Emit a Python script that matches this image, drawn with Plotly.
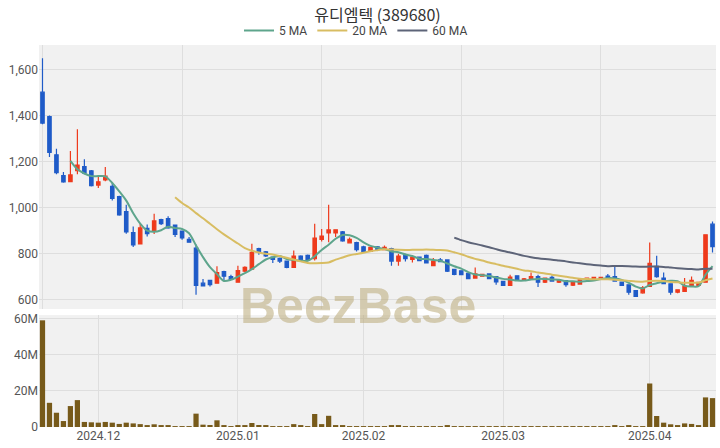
import pandas as pd
import plotly.graph_objects as go

# ---- data ----
holidays = ["2024-12-25", "2024-12-31", "2025-01-01", "2025-01-27",
            "2025-01-28", "2025-01-29", "2025-01-30"]
dates = [d.strftime("%Y-%m-%d") for d in pd.bdate_range("2024-11-20", "2025-04-14")
         if d.strftime("%Y-%m-%d") not in holidays]

opens = [1501, 1395, 1229, 1139, 1113, 1160, 1178, 1160, 1098, 1120,
         1092, 1048, 983, 892, 842, 910, 898, 948, 952, 924,
         898, 862, 824, 672, 684, 672, 722, 700, 676, 724,
         733, 822, 808, 785, 780, 768, 740, 790, 793, 778,
         862, 890, 890, 895, 847, 848, 830, 810, 830, 818,
         822, 768, 793, 775, 785, 793, 748, 773, 773, 732,
         726, 715, 694, 702, 712, 700, 680, 662, 704, 685,
         688, 700, 676, 697, 676, 683, 663, 668, 688, 685,
         690, 703, 700, 677, 665, 640, 630, 658, 745, 694,
         669, 633, 636, 661, 662, 676, 928]
highs = [1648, 1400, 1256, 1155, 1246, 1340, 1210, 1163, 1135, 1176,
         1109, 1052, 1012, 918, 930, 927, 973, 952, 962, 927,
         900, 872, 840, 690, 686, 745, 726, 708, 748, 745,
         843, 826, 812, 788, 783, 770, 814, 793, 796, 930,
         907, 1012, 906, 898, 870, 852, 834, 830, 833, 836,
         826, 800, 800, 787, 787, 796, 781, 781, 776, 735,
         728, 717, 740, 713, 714, 703, 682, 708, 706, 694,
         718, 708, 696, 705, 687, 686, 679, 689, 696, 699,
         699, 712, 745, 679, 667, 642, 660, 849, 791, 718,
         671, 645, 694, 701, 677, 884, 940]
lows = [1362, 1220, 1145, 1108, 1112, 1145, 1145, 1092, 1085, 1115,
        1031, 965, 886, 829, 840, 875, 885, 925, 908, 872,
        860, 849, 622, 657, 657, 670, 684, 686, 674, 720,
        730, 795, 786, 760, 760, 737, 738, 772, 770, 770,
        853, 850, 872, 852, 845, 810, 806, 808, 816, 816,
        748, 748, 766, 762, 768, 757, 746, 763, 720, 706,
        707, 690, 692, 700, 690, 665, 660, 660, 686, 683,
        686, 655, 673, 678, 673, 656, 660, 666, 684, 682,
        688, 693, 679, 660, 622, 613, 626, 656, 696, 668,
        622, 628, 634, 659, 660, 674, 805]
closes = [1367, 1240, 1152, 1112, 1142, 1185, 1150, 1095, 1112, 1137,
          1040, 968, 895, 838, 912, 887, 942, 930, 912, 884,
          869, 850, 662, 660, 666, 718, 702, 688, 727, 741,
          806, 810, 790, 775, 768, 740, 790, 775, 772, 868,
          876, 903, 904, 855, 862, 818, 808, 827, 818, 828,
          768, 790, 778, 785, 770, 760, 768, 765, 724, 710,
          709, 692, 712, 710, 692, 677, 662, 698, 688, 691,
          700, 676, 694, 681, 684, 666, 676, 686, 694, 697,
          697, 695, 681, 662, 633, 615, 653, 758, 700, 670,
          633, 643, 658, 684, 675, 882, 830]
volumes_m = [59.1, 13.4, 7.9, 3.3, 11.6, 14.9, 2.8, 2.6, 2.4, 2.8,
             2.4, 1.7, 2.4, 2.0, 1.6, 0.8, 1.5, 0.8, 0.7, 0.5,
             0.4, 0.3, 7.4, 1.3, 1.1, 3.7, 0.8, 0.3, 0.7, 0.6,
             2.2, 1.1, 0.6, 0.3, 0.3, 0.4, 1.6, 0.6, 0.5, 7.2,
             1.6, 6.2, 0.8, 0.6, 0.5, 0.3, 0.3, 0.4, 0.3, 0.3,
             0.8, 0.6, 0.4, 0.3, 0.3, 0.4, 0.3, 0.2, 0.7, 0.4,
             0.3, 0.4, 0.5, 0.3, 0.3, 0.4, 0.3, 0.4, 0.3, 0.2,
             0.3, 0.4, 0.2, 0.3, 0.2, 0.3, 0.2, 0.2, 0.3, 0.2,
             0.2, 0.3, 0.9, 0.3, 0.6, 0.3, 0.4, 24.1, 6.1, 2.4,
             1.5, 1.0, 2.0, 1.7, 0.6, 16.4, 16.0]
volumes = [v * 1e6 for v in volumes_m]

price_ticks = [600, 800, 1000, 1200, 1400, 1600]
vol_tickvals = [0, 20e6, 40e6, 60e6]
vol_ticktext = ["0", "20M", "40M", "60M"]
month_labels = ["2024.12", "2025.01", "2025.02", "2025.03", "2025.04"]

title_text = "유디엠텍 (389680)"
ma_windows = [5, 20, 60]
ma_names = ["5 MA", "20 MA", "60 MA"]
ma_colors = ["#5ea58c", "#d8bd62", "#5d6478"]

# ---- derived ----
close_s = pd.Series(closes)
month_tick_dates = []
seen = set()
for d in dates:
    ym = d[:7]
    if ym not in seen:
        seen.add(ym)
        month_tick_dates.append(d)
month_tick_dates = month_tick_dates[1:]
grid_dates = dates[::20]

UP = "#ee3a1c"
DOWN = "#1f5bc8"
FONT = "Roboto, 'Noto Sans CJK KR', sans-serif"

fig = go.Figure()
fig.add_trace(go.Candlestick(
    x=dates, open=opens, high=highs, low=lows, close=closes,
    increasing=dict(line=dict(color=UP, width=1.2), fillcolor=UP),
    decreasing=dict(line=dict(color=DOWN, width=1.2), fillcolor=DOWN),
    whiskerwidth=0, showlegend=False, xaxis="x", yaxis="y"))

for w, name, col in zip(ma_windows, ma_names, ma_colors):
    ma = close_s.rolling(w).mean()
    fig.add_trace(go.Scatter(
        x=dates, y=ma, mode="lines", name=name,
        line=dict(color=col, width=2, shape="spline", smoothing=0.8),
        xaxis="x", yaxis="y"))

fig.add_trace(go.Bar(x=dates, y=volumes, marker=dict(color="#775a1a", line=dict(width=0)),
                     showlegend=False, xaxis="x2", yaxis="y2"))

n = len(dates)
fig.update_layout(
    width=720, height=448,
    margin=dict(l=39, r=4, t=45, b=21),
    paper_bgcolor="white", plot_bgcolor="#f1f1f1",
    font=dict(family=FONT, size=12, color="#444"),
    title=dict(text=title_text, x=0.5, xanchor="center", xref="paper",
               y=1 - 15 / 448, yref="container", yanchor="middle",
               font=dict(size=16, color="#333", family="'Noto Sans CJK KR', sans-serif")),
    legend=dict(orientation="h", x=(356 - 39) / 677, xanchor="center", y=1.0, yanchor="bottom",
                font=dict(size=12, color="#444"), bgcolor="rgba(0,0,0,0)"),
    bargap=0.25,
    xaxis=dict(type="category", domain=[0, 1], anchor="y", range=[-0.5, n - 0.5],
               rangeslider=dict(visible=False), showticklabels=False,
               tickmode="array", tickvals=grid_dates, showgrid=True,
               gridcolor="#dedede", zeroline=False, showline=False, automargin=False),
    yaxis=dict(domain=[0.309, 1], anchor="x", range=[560, 1706],
               tickmode="array", tickvals=price_ticks, tickformat=",",
               gridcolor="#dedede", zeroline=False, showline=False, ticks="",
               tickfont=dict(size=12, color="#555"), automargin=False),
    xaxis2=dict(type="category", domain=[0, 1], anchor="y2", range=[-0.5, n - 0.5],
                tickmode="array", tickvals=month_tick_dates, ticktext=month_labels,
                showgrid=True, gridcolor="#dedede", zeroline=False, showline=False,
                ticks="", tickfont=dict(size=12, color="#555"), automargin=False),
    yaxis2=dict(domain=[0, 0.293], anchor="x2", range=[0, 62e6],
                tickmode="array", tickvals=vol_tickvals, ticktext=vol_ticktext,
                gridcolor="#dedede", zeroline=False, showline=False, ticks="",
                tickfont=dict(size=12, color="#555"), automargin=False),
)

fig.add_annotation(text="<b>BeezBase</b>", xref="paper", yref="paper",
                   x=(357.5 - 39) / 677, y=(427 - 306) / 382,
                   xanchor="center", yanchor="middle", showarrow=False,
                   font=dict(size=50, color="rgba(185,170,120,0.55)",
                             family="'Liberation Sans', Arial, sans-serif"))

fig.write_html("out.html", config={"displayModeBar": False},
               post_script="document.body.style.margin='0';document.body.style.padding='0';")
